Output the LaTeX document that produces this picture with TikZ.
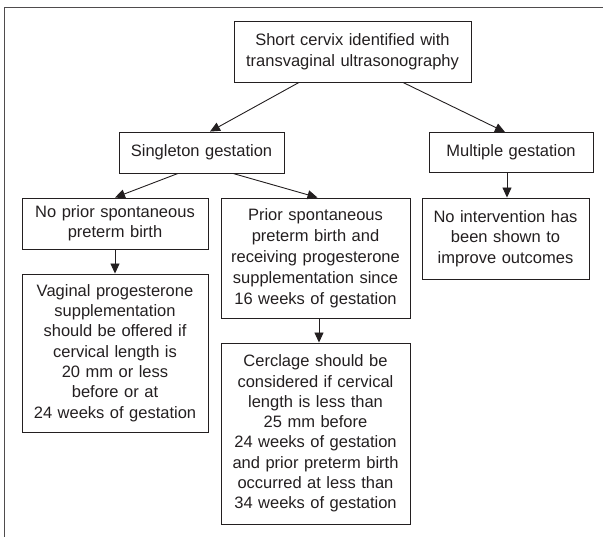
\documentclass[tikz,border=0pt]{standalone}
\usepackage{fontspec}
\setmainfont{Liberation Sans}
\usetikzlibrary{calc,arrows.meta}
\definecolor{ink}{RGB}{35,31,32}
\tikzset{
  box/.style={draw=ink, line width=0.9pt, text=ink, align=center, inner sep=0pt,
    font=\fontsize{16.5}{20.3}\selectfont},
  loose/.style={font=\fontsize{16.5}{21}\selectfont},
  arr/.style={draw=ink, line width=0.9pt, -{Triangle[length=10pt,width=9pt]}},
  frame/.style={draw=ink!80, line width=0.8pt}
}
\begin{document}
\begin{tikzpicture}[x=1pt,y=-1pt]
\useasboundingbox (0,0) rectangle (603,537);
% outer frame
\draw[frame] (603,7) -- (4,7) -- (4,537);

% boxes
\node[box, loose, minimum width=237pt, minimum height=61pt, text width=231pt] (top) at (352.5,51.5)
  {Short cervix identified with\\transvaginal ultrasonography};
\node[box, minimum width=165pt, minimum height=41pt, text width=159pt] (single) at (201.5,152.5)
  {Singleton gestation};
\node[box, minimum width=164pt, minimum height=40pt, text width=158pt] (multi) at (511,152.5)
  {Multiple gestation};
\node[box, minimum width=186pt, minimum height=51pt, text width=180pt] (noprior) at (115,223.5)
  {No prior spontaneous\\preterm birth};
\node[box, loose, minimum width=189pt, minimum height=120pt, text width=183pt] (prior) at (315.5,258)
  {Prior spontaneous\\preterm birth and\\receiving progesterone\\supplementation since\\16 weeks of gestation};
\node[box, minimum width=167pt, minimum height=81pt, text width=161pt] (nointerv) at (505.5,238.5)
  {No intervention has\\been shown to\\improve outcomes};
\node[box, minimum width=186pt, minimum height=158pt, text width=180pt] (vaginal) at (115,353)
  {Vaginal progesterone\\supplementation\\should be offered if\\cervical length is\\20 mm or less\\before or at\\24 weeks of gestation};
\node[box, minimum width=189pt, minimum height=181pt, text width=183pt] (cerclage) at (315.5,433.5)
  {Cerclage should be\\considered if cervical\\length is less than\\25 mm before\\24 weeks of gestation\\and prior preterm birth\\occurred at less than\\34 weeks of gestation};

% connectors
\draw[arr] ($(top.south)+(-53.5,0)$) -- ($(single.north)+(8.5,0)$);
\draw[arr] ($(top.south)+(50.5,0)$) -- ($(multi.north)+(-6,0)$);
\draw[arr] ($(single.south)+(-23.5,0)$) -- (noprior.north);
\draw[arr] ($(single.south)+(31.5,0)$) -- ($(prior.north)+(2,0)$);
\draw[arr] ($(multi.south)+(-4,0)$) -- ($(nointerv.north)+(1.5,0)$);
\draw[arr] (noprior.south) -- (vaginal.north);
\draw[arr] ($(prior.south)+(3.5,0)$) -- ($(cerclage.north)+(3.5,0)$);
\end{tikzpicture}
\end{document}
